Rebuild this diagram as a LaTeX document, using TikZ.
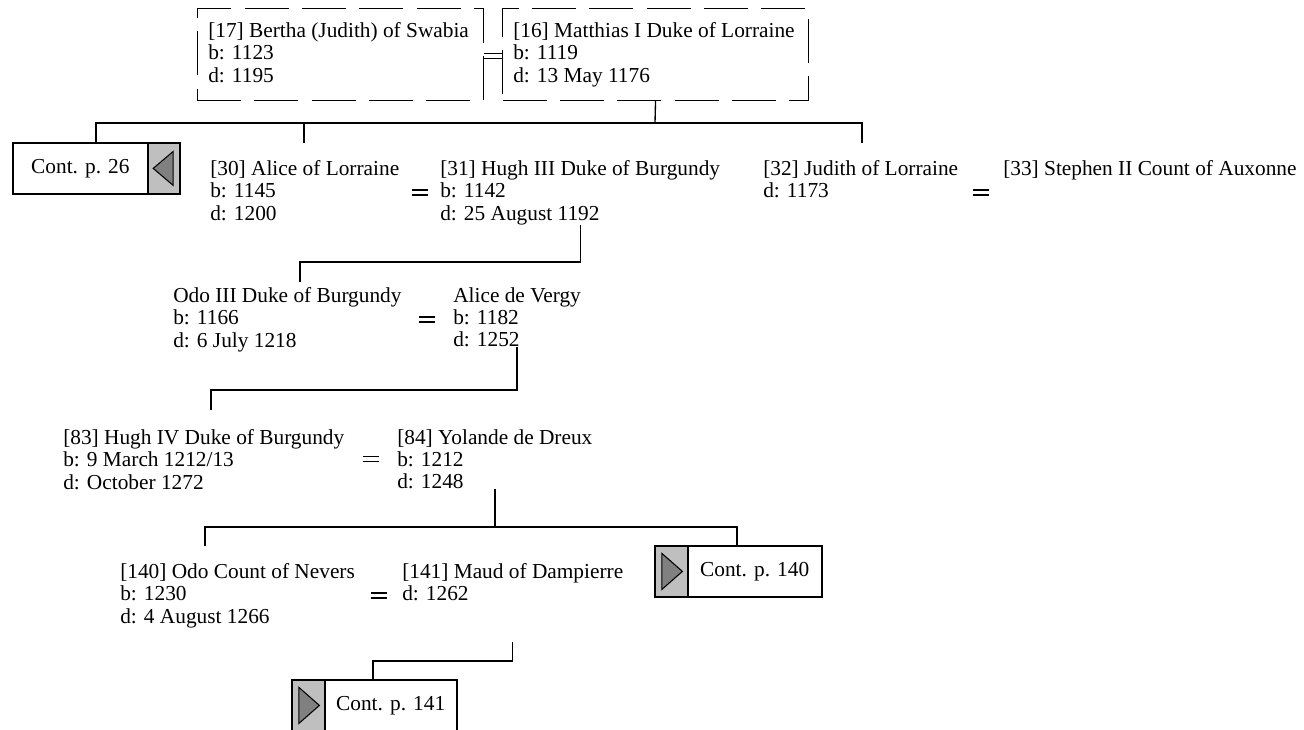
\documentclass[tikz,border=0pt]{standalone}
\usepackage{fontspec}
\setmainfont{Liberation Serif}
\usetikzlibrary{calc}
\tikzset{
  pers/.style={font=\fontsize{16}{16.8}\selectfont, align=left, inner sep=0pt, anchor=north west},
  famframe/.style={draw=black, line width=0.8pt, dash pattern=on 33pt off 10pt, inner sep=0pt,
                   anchor=north west, minimum height=69pt},
  kin/.style={draw=black, line width=1pt},
  wed/.style={draw=black, line width=0.8pt},
  contcell/.style={draw=black, line width=0.6pt, fill=white, inner sep=0pt, anchor=north west,
                   minimum height=37.5pt, font=\fontsize{16}{16.8}\selectfont},
  contflag/.style={draw=black, line width=0.6pt, fill=black!25, inner sep=0pt, anchor=north west,
                   minimum width=24pt, minimum height=37.5pt},
  conttri/.style={draw=black, line width=0.8pt, fill=black!50},
  contrim/.style={draw=black, line width=1.5pt},
}

\begin{document}
\begin{tikzpicture}[x=0.75pt,y=-0.75pt]
\useasboundingbox (0,0) rectangle (1304,729);

% ===== parents: dashed family frames =====
\node[famframe, minimum width=214.9pt] (f17) at (196.5,8) {};
\node[famframe, minimum width=229.5pt] (f16) at (502,8) {};
\node[pers] (p17) at (208,22) {[17] Bertha (Judith) of Swabia\\b: 1123\\d: 1195};
\node[pers] (p16) at (513,22) {[16] Matthias I Duke of Lorraine\\b: 1119\\d: 13 May 1176};
\draw[wed] ($(f17.east)+(0,-1)$) -- ($(f16.west)+(0,-1)$)
           ($(f17.east)+(0,4)$) -- ($(f16.west)+(0,4)$);

% ===== generation 2 =====
\node[contcell, minimum width=100.5pt] (c26) at (13,143) {Cont. p. 26};
\node[contflag, minimum width=23.25pt] (c26f) at (c26.north east) {};
\draw[contrim] (c26.north west) rectangle (c26f.south east);
\draw[conttri] ($(c26f.center)+(-10.5,0)$) -- ($(c26f.center)+(9.5,-17)$)
               -- ($(c26f.center)+(9.5,17)$) -- cycle;
\node[pers] (p30) at (210,160) {[30] Alice of Lorraine\\b: 1145\\d: 1200};
\node[pers] (p31) at (440,160) {[31] Hugh III Duke of Burgundy\\b: 1142\\d: 25 August 1192};
\node[pers] (p32) at (763,160) {[32] Judith of Lorraine\\d: 1173};
\node[pers] (p33) at (1003,160) {[33] Stephen II Count of Auxonne};

% ===== generation 3 =====
\node[pers] (odo3) at (173,287) {Odo III Duke of Burgundy\\b: 1166\\d: 6 July 1218};
\node[pers] (alice) at (453,287) {Alice de Vergy\\b: 1182\\d: 1252};

% ===== generation 4 =====
\node[pers] (p83) at (63,429) {[83] Hugh IV Duke of Burgundy\\b: 9 March 1212/13\\d: October 1272};
\node[pers] (p84) at (397,429) {[84] Yolande de Dreux\\b: 1212\\d: 1248};

% ===== generation 5 =====
\node[pers] (p140) at (120,563) {[140] Odo Count of Nevers\\b: 1230\\d: 4 August 1266};
\node[pers] (p141) at (402,563) {[141] Maud of Dampierre\\d: 1262};
\node[contflag] (c140f) at (655,546) {};
\node[contcell, minimum width=99.75pt] (c140) at (c140f.north east) {Cont. p. 140};
\draw[contrim] (c140f.north west) rectangle (c140.south east);
\draw[conttri] ($(c140f.center)+(11,0)$) -- ($(c140f.center)+(-9.5,-18)$)
               -- ($(c140f.center)+(-9.5,18)$) -- cycle;

% ===== generation 6 =====
\node[contflag] (c141f) at (292,680) {};
\node[contcell, minimum width=98.25pt] (c141) at (c141f.north east) {Cont. p. 141};
\draw[contrim] (c141f.north west) rectangle (c141.south east);
\draw[conttri] ($(c141f.center)+(11,0)$) -- ($(c141f.center)+(-9.5,-18)$)
               -- ($(c141f.center)+(-9.5,18)$) -- cycle;

% ===== marriage signs =====
\foreach \a/\b/\c in {p30/p31/p31, p32/p33/p31, odo3/alice/odo3, p83/p84/p83, p140/p141/p140} {
  \coordinate (wm) at ($(\a.east)!0.5!(\b.west)$);
  \path (wm |- \c.center) coordinate (wc);
  \draw[wed] ($(wc)+(-8,-2.5)$) -- ++(16,0) ($(wc)+(-8,2.5)$) -- ++(16,0);
}

% ===== descent lines =====
\draw[kin] (f16.south) -- (655,123);
\draw[kin] (96,143) |- (862,123) -- (862,143);
\draw[kin] (304,123) -- (304,143);
\draw[kin] (p31.south) -- (p31.south |- 0,262) -| (300,282);
\draw[kin] (alice.south) -- (alice.south |- 0,390) -| (211,410);
\draw[kin] (p84.south) -- (p84.south |- 0,527) -| (205,546);
\draw[kin] (p84.south |- 0,527) -| (737,0 |- c140.north);
\draw[kin] (p141.south |- 0,642) -- (p141.south |- 0,661) -| (373,0 |- c141.north);

\end{tikzpicture}
\end{document}
